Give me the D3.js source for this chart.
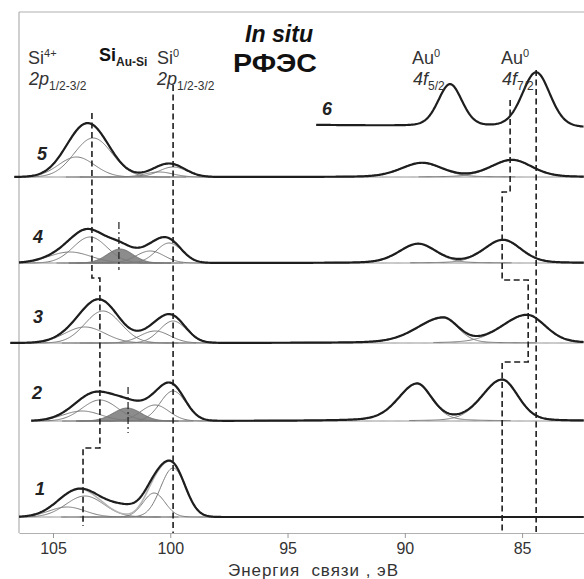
<!DOCTYPE html>
<html><head><meta charset="utf-8">
<script src="https://cdn.jsdelivr.net/npm/d3@7"></script>
<style>body{margin:0;background:#fff}svg{display:block;font-family:"Liberation Sans",Arial,sans-serif}</style>
</head><body>
<svg id="c" width="584" height="579"></svg>
<script>
// ---------- data ----------
const xDomain = [106.45, 82.36];          // binding energy, eV (reversed axis)
const yDomain = [0, 521];                 // intensity, arb. units (stacked)
const xTicks = [105, 100, 95, 90, 85];
const xTitle = "Энергия  связи , эВ";

const spectrumIds = ["1", "2", "3", "4", "5", "6"];
// stacking offsets of each spectrum: [offset at high-E end, offset at low-E end]
const offsets1 = [16, 16];
const offsets2 = [112, 112];
const offsets3 = [190, 190];
const offsets4 = [270, 270];
const offsets5 = [356, 356];
const offsets6 = [408, 405];
// energy span of each recorded spectrum [start, end] eV
const span1 = [106.45, 82.36];
const span2 = [105.93, 82.36];
const span3 = [106.82, 82.36];
const span4 = [106.45, 82.36];
const span5 = [106.65, 82.36];
const span6 = [93.78, 82.36];

// fitted components: [centre eV, height, FWHM high-E side, FWHM low-E side, Lorentz fraction]
const comps1 = [[104.40, 10, 1.8, 1.8, 0], [103.64, 21, 1.9, 1.9, 0], [100.69, 24, 1.1, 1.1, 0], [99.88, 49, 1.25, 1.25, 0]];
const comps2 = [[103.76, 10, 1.9, 1.9, 0], [103.00, 21, 1.8, 1.8, 0], [100.65, 16, 1.4, 1.4, 0], [99.88, 30, 1.3, 1.3, 0],
                [89.48, 37, 1.9, 1.5, 0.3], [85.85, 41, 2.0, 1.6, 0.2]];
const comps3 = [[103.64, 16, 2.0, 2.0, 0], [102.87, 32, 1.8, 1.8, 0], [100.65, 12, 1.5, 1.5, 0], [99.88, 22, 1.35, 1.35, 0],
                [88.37, 25, 2.6, 1.5, 0.2], [84.79, 28, 2.5, 1.85, 0.2]];
const comps4 = [[104.28, 11, 2.1, 2.1, 0], [103.42, 26, 1.7, 1.7, 0], [100.86, 12, 1.4, 1.4, 0], [100.05, 20, 1.3, 1.3, 0],
                [89.43, 19, 1.9, 1.8, 0.2], [85.81, 23, 1.9, 1.8, 0.2]];
const comps5 = [[104.00, 20, 1.8, 1.8, 0], [103.29, 39, 1.9, 1.9, 0], [100.48, 5, 1.4, 1.4, 0], [99.88, 10, 1.4, 1.4, 0],
                [89.26, 14, 2.1, 2.0, 0.2], [85.43, 17, 2.1, 2.0, 0.2]];
const comps6 = [[88.07, 42, 1.2, 1.2, 0.2], [84.40, 55, 1.4, 1.4, 0.2]];
// Si(Au-Si) components (shaded)
const shaded2 = [[101.84, 13, 1.4, 1.4, 0]];
const shaded4 = [[102.14, 14, 1.3, 1.3, 0]];
// measured intensity not covered by the fit
const extra1 = [[101.93, 10, 1.8, 1.8, 0]];

// reference lines (eV)
const si0Line = 99.88;
const au72Line = 84.40;
// stepped Si4+ line: peak position in spectra 5,4,3,2,1 and step levels
const si4Pos = [103.34, 103.34, 103.00, 103.00, 103.72];
const si4Levels = [420, 255, 255, 255, 85, 7];
// stepped Au line
const auPos = [85.51, 85.85, 84.74, 85.85, 85.85];
const auLevels = [433, 341, 253, 171, 0];
// Si(Au-Si) markers: [eV, from, to]
const siAuMarks = [[102.19, 311, 263], [101.80, 146, 100]];

// ---------- drawing ----------
const svg = d3.select("#c");
const W = 584, H = 579;
const x = d3.scaleLinear().domain(xDomain).range([19, 584]);
const y = d3.scaleLinear().domain(yDomain).range([533, 12]);

const spectra = {
  "1": {off: offsets1, span: span1, comps: comps1, shaded: [], extra: extra1},
  "2": {off: offsets2, span: span2, comps: comps2, shaded: shaded2, extra: []},
  "3": {off: offsets3, span: span3, comps: comps3, shaded: [], extra: []},
  "4": {off: offsets4, span: span4, comps: comps4, shaded: shaded4, extra: []},
  "5": {off: offsets5, span: span5, comps: comps5, shaded: [], extra: []},
  "6": {off: offsets6, span: span6, comps: comps6, shaded: [], extra: [], noFit: true}
};

function peak(c, e) {
  const d = e - c[0];
  const w = d > 0 ? c[2] : c[3];
  const g = Math.exp(-4 * Math.LN2 * d * d / (w * w));
  const l = 1 / (1 + 4 * d * d / (w * w));
  return c[1] * ((1 - c[4]) * g + c[4] * l);
}

// frame
svg.append("line").attr("x1", 19).attr("x2", 19).attr("y1", 12).attr("y2", 533).attr("stroke", "#b0b0b0").attr("stroke-width", 1.2);
svg.append("line").attr("x1", 19).attr("x2", W).attr("y1", 12).attr("y2", 12).attr("stroke", "#b0b0b0").attr("stroke-width", 1.2);

// x axis
const ax = svg.append("g").attr("transform", "translate(0,533)")
  .call(d3.axisBottom(x).tickValues(xTicks).tickSize(5).tickSizeOuter(0).tickFormat(d3.format("d")));
ax.select(".domain").attr("stroke", "#b0b0b0").attr("stroke-width", 1.2);
ax.selectAll(".tick line").attr("stroke", "#999");
ax.selectAll(".tick text").attr("font-size", 16).attr("fill", "#333").attr("dy", "0.8em")
  .attr("font-family", "Liberation Sans, Arial, sans-serif");
svg.append("text").attr("x", 228).attr("y", 576)
  .attr("font-size", 17).attr("fill", "#333").style("white-space", "pre")
  .attr("textLength", 170).attr("lengthAdjust", "spacing").text(xTitle);

const plot = svg.append("g");

spectrumIds.forEach(id => {
  const s = spectra[id];
  const grid = d3.range(s.span[0], s.span[1] - 0.001, -0.04);
  const base = e => s.off[0] + (s.off[1] - s.off[0]) * (s.span[0] - e) / (s.span[0] - s.span[1]);
  const allComps = s.comps.concat(s.shaded);
  const line = d3.line().x(d => x(d[0])).y(d => y(d[1]));
  if (!s.noFit) {
    plot.append("path").attr("d", line(grid.map(e => [e, base(e)])))
      .attr("fill", "none").attr("stroke", "#8a8a8a").attr("stroke-width", 1);
    s.shaded.forEach(c => {
      const pts = grid.filter(e => Math.abs(e - c[0]) < 2.2).map(e => [e, base(e) + peak(c, e)]);
      const area = d3.area().x(d => x(d[0])).y0(d => y(base(d[0]))).y1(d => y(d[1]));
      plot.append("path").attr("d", area(pts)).attr("fill", "#8c8c8c").attr("stroke", "#666").attr("stroke-width", 0.8);
    });
    s.comps.forEach(c => {
      const pts = grid.filter(e => Math.abs(e - c[0]) < 4).map(e => [e, base(e) + peak(c, e)]);
      plot.append("path").attr("d", line(pts)).attr("fill", "none").attr("stroke", "#7a7a7a").attr("stroke-width", 1);
    });
    plot.append("path").attr("d", line(grid.map(e => [e, base(e) + d3.sum(allComps, c => peak(c, e))])))
      .attr("fill", "none").attr("stroke", "#b5b5b5").attr("stroke-width", 1.6);
  }
  const meas = grid.map(e => [e, base(e) + d3.sum(allComps.concat(s.extra), c => peak(c, e))]);
  plot.append("path").attr("d", line(meas)).attr("fill", "none").attr("stroke", "#1e1e1e").attr("stroke-width", 2.2);
});

// reference lines
const dash = "6,3.5";
function vline(e, v0, v1, da, sw) {
  svg.append("line").attr("x1", x(e)).attr("x2", x(e)).attr("y1", y(v0)).attr("y2", y(v1))
    .attr("stroke", "#1e1e1e").attr("stroke-width", sw || 1.6).attr("stroke-dasharray", da);
}
vline(si0Line, 448, 0, dash);
vline(au72Line, 463, 0, dash);

function stepPath(pos, levels) {
  const pts = [];
  pos.forEach((p, i) => { pts.push([p, levels[i]]); pts.push([p, levels[i + 1]]); });
  return d3.line().x(d => x(d[0])).y(d => y(d[1]))(pts);
}
svg.append("path").attr("d", stepPath(si4Pos, si4Levels)).attr("fill", "none")
  .attr("stroke", "#1e1e1e").attr("stroke-width", 1.6).attr("stroke-dasharray", dash);
svg.append("path").attr("d", stepPath(auPos, auLevels)).attr("fill", "none")
  .attr("stroke", "#1e1e1e").attr("stroke-width", 1.6).attr("stroke-dasharray", dash);
siAuMarks.forEach(m => vline(m[0], m[1], m[2], "7,3,2,3", 1.2));

// labels
function label(xp, yp, parts) {
  const t = svg.append("text").attr("x", xp).attr("y", yp).attr("fill", "#333");
  parts.forEach(p => {
    const ts = t.append("tspan").text(p.t).attr("font-size", p.fs || 18);
    if (p.b) ts.attr("font-weight", "bold");
    if (p.i) ts.attr("font-style", "italic");
    if (p.dy) ts.attr("dy", p.dy);
    if (p.fill) ts.attr("fill", p.fill);
  });
  return t;
}
label(28, 64, [{t: "Si"}, {t: "4+", fs: 11, dy: -7}]);
label(29, 85, [{t: "2", i: true}, {t: "p", i: true}, {t: "1/2-3/2", fs: 12, dy: 5}]);
label(99, 61, [{t: "Si", b: true, fill: "#111"}, {t: "Au-Si", fs: 12, b: true, dy: 5, fill: "#222"}]);
label(157, 64, [{t: "Si"}, {t: "0", fs: 11, dy: -7}]);
label(157, 85, [{t: "2", i: true}, {t: "p", i: true}, {t: "1/2-3/2", fs: 12, dy: 5}]);
label(412, 64, [{t: "Au"}, {t: "0", fs: 11, dy: -7}]);
label(413, 85, [{t: "4", i: true}, {t: "f", i: true}, {t: "5/2", fs: 12, dy: 5}]);
label(501, 64, [{t: "Au"}, {t: "0", fs: 11, dy: -7}]);
label(502, 85, [{t: "4", i: true}, {t: "f", i: true}, {t: "7/2", fs: 12, dy: 5}]);

svg.append("text").attr("x", 245).attr("y", 42).attr("font-size", 23).attr("font-weight", "bold")
  .attr("font-style", "italic").attr("fill", "#111").attr("textLength", 68).attr("lengthAdjust", "spacingAndGlyphs").text("In situ");
svg.append("text").attr("x", 233).attr("y", 72).attr("font-size", 25).attr("font-weight", "bold")
  .attr("fill", "#111").attr("textLength", 84).attr("lengthAdjust", "spacingAndGlyphs").text("РФЭС");

const numPos = {"1": [35, 495], "2": [32, 399], "3": [33, 323], "4": [33, 243], "5": [37, 160], "6": [322, 115]};
spectrumIds.forEach(id => {
  svg.append("text").attr("x", numPos[id][0]).attr("y", numPos[id][1]).attr("font-size", 18)
    .attr("font-weight", "bold").attr("font-style", "italic").attr("fill", "#222").text(id);
});
</script>
</body></html>
